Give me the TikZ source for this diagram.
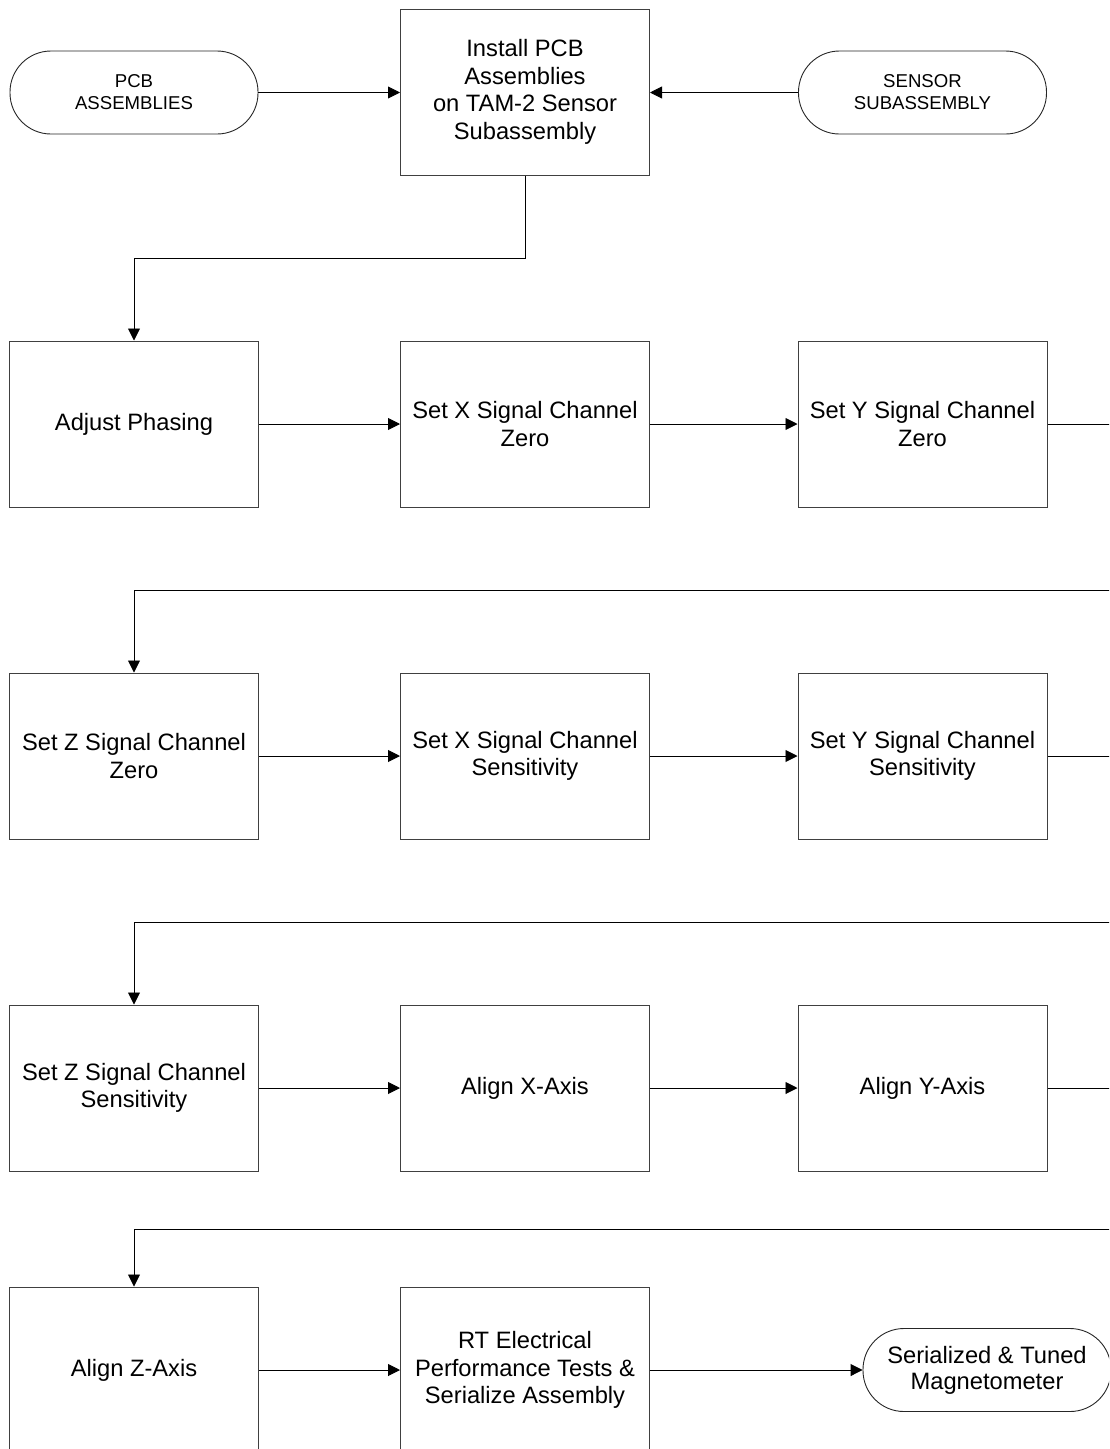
\documentclass[tikz,border=0pt]{standalone}
\usepackage{fontspec}
\setmainfont{Liberation Sans}
\usetikzlibrary{arrows.meta}
\begin{document}
\begin{tikzpicture}[x=1pt,y=-1pt,
  boxfont/.style={font=\fontsize{23.7}{27.6}\selectfont},
  stepbox/.style={draw=black!75, line width=1pt, minimum width=249pt,
    minimum height=166pt, inner sep=0pt, align=center, boxfont},
  term/.style={draw=black!85, line width=0.9pt, rounded corners=41pt,
    minimum width=248pt, minimum height=83pt, inner sep=0pt, align=center},
  smallterm/.style={term, font=\fontsize{18.6}{22}\selectfont},
  bigterm/.style={term, font=\fontsize{23.7}{26}\selectfont},
  arr/.style={draw=black, line width=0.9pt, -{Triangle[length=12pt,width=12pt]}},
]
\clip (0,0) rectangle (1109,1449);

% sources and first step
\node[smallterm] (pcb) at (134,92.5) {PCB\\ASSEMBLIES};
\node[smallterm] (sen) at (922.5,92.5) {SENSOR\\SUBASSEMBLY};
\node[stepbox] (inst) at (525,92) {Install PCB\\Assemblies\\on TAM-2 Sensor\\Subassembly};

% row 1
\node[stepbox] (adj) at (134,424) {Adjust Phasing};
\node[stepbox] (xz) at (525,424) {Set X Signal Channel\\Zero};
\node[stepbox] (yz) at (922.5,424) {Set Y Signal Channel\\Zero};

% row 2
\node[stepbox] (zz) at (134,756) {Set Z Signal Channel\\Zero};
\node[stepbox] (xs) at (525,756) {Set X Signal Channel\\Sensitivity};
\node[stepbox] (ys) at (922.5,756) {Set Y Signal Channel\\Sensitivity};

% row 3
\node[stepbox] (zs) at (134,1088) {Set Z Signal Channel\\Sensitivity};
\node[stepbox] (ax) at (525,1088) {Align X-Axis};
\node[stepbox] (ay) at (922.5,1088) {Align Y-Axis};

% row 4
\node[stepbox] (az) at (134,1370) {Align Z-Axis};
\node[stepbox] (rt) at (525,1370) {RT Electrical\\Performance Tests \&\\Serialize Assembly};
\node[bigterm] (mag) at (987,1370) {Serialized \& Tuned\\Magnetometer};

% return points beyond the right edge
\coordinate (r2) at (1130,590);
\coordinate (r3) at (1130,922);
\coordinate (r4) at (1130,1229);

% connectors
\draw[arr] (pcb.east) -- (inst.west |- pcb.east);
\draw[arr] (sen.west) -- (inst.east |- sen.west);
\draw[arr] (inst.south) -- ++(0,83) -| (adj.north);

\draw[arr] (adj) -- (xz);
\draw[arr] (xz) -- (yz);
\draw[arr] (yz.east) -| (r2) -| (zz.north);

\draw[arr] (zz) -- (xs);
\draw[arr] (xs) -- (ys);
\draw[arr] (ys.east) -| (r3) -| (zs.north);

\draw[arr] (zs) -- (ax);
\draw[arr] (ax) -- (ay);
\draw[arr] (ay.east) -| (r4) -| (az.north);

\draw[arr] (az) -- (rt);
\draw[arr] (rt) -- (mag);
\end{tikzpicture}
\end{document}
